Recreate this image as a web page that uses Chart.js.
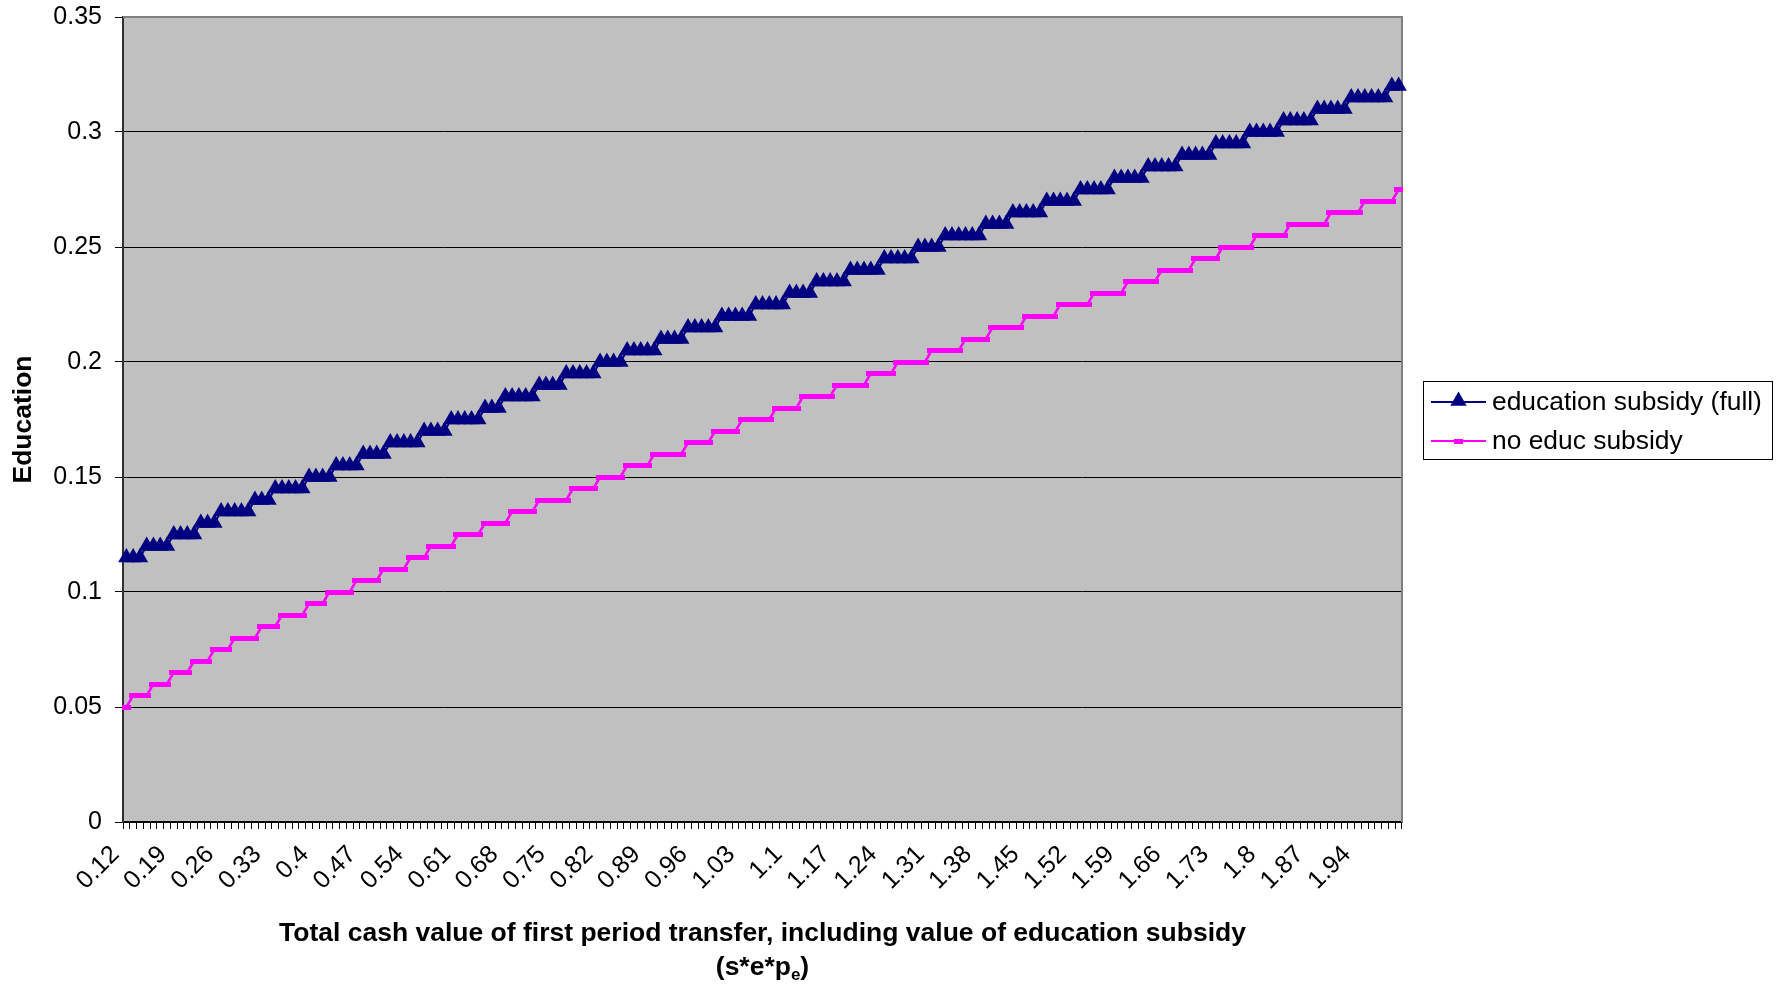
<!DOCTYPE html>
<html>
<head>
<meta charset="utf-8">
<script src="https://cdn.jsdelivr.net/npm/chart.js@4.4.1/dist/chart.umd.min.js"></script>
<style>
  html, body { margin: 0; padding: 0; background: #ffffff; }
  #wrap { width: 1780px; height: 985px; position: relative; }
</style>
</head>
<body>
<div id="wrap"><canvas id="chart" width="1780" height="985"></canvas></div>
<script>
// Transfer values on the category axis
const categories = [
  0.12, 0.13, 0.14, 0.15, 0.16, 0.17, 0.18, 0.19,
  0.2, 0.21, 0.22, 0.23, 0.24, 0.25, 0.26, 0.27, 0.28, 0.29,
  0.3, 0.31, 0.32, 0.33, 0.34, 0.35, 0.36, 0.37, 0.38, 0.39,
  0.4, 0.41, 0.42, 0.43, 0.44, 0.45, 0.46, 0.47, 0.48, 0.49,
  0.5, 0.51, 0.52, 0.53, 0.54, 0.55, 0.56, 0.57, 0.58, 0.59,
  0.6, 0.61, 0.62, 0.63, 0.64, 0.65, 0.66, 0.67, 0.68, 0.69,
  0.7, 0.71, 0.72, 0.73, 0.74, 0.75, 0.76, 0.77, 0.78, 0.79,
  0.8, 0.81, 0.82, 0.83, 0.84, 0.85, 0.86, 0.87, 0.88, 0.89,
  0.9, 0.91, 0.92, 0.93, 0.94, 0.95, 0.96, 0.97, 0.98, 0.99,
  1, 1.01, 1.02, 1.03, 1.04, 1.05, 1.06, 1.07, 1.08, 1.09,
  1.1, 1.11, 1.12, 1.13, 1.14, 1.15, 1.16, 1.17, 1.18, 1.19,
  1.2, 1.21, 1.22, 1.23, 1.24, 1.25, 1.26, 1.27, 1.28, 1.29,
  1.3, 1.31, 1.32, 1.33, 1.34, 1.35, 1.36, 1.37, 1.38, 1.39,
  1.4, 1.41, 1.42, 1.43, 1.44, 1.45, 1.46, 1.47, 1.48, 1.49,
  1.5, 1.51, 1.52, 1.53, 1.54, 1.55, 1.56, 1.57, 1.58, 1.59,
  1.6, 1.61, 1.62, 1.63, 1.64, 1.65, 1.66, 1.67, 1.68, 1.69,
  1.7, 1.71, 1.72, 1.73, 1.74, 1.75, 1.76, 1.77, 1.78, 1.79,
  1.8, 1.81, 1.82, 1.83, 1.84, 1.85, 1.86, 1.87, 1.88, 1.89,
  1.9, 1.91, 1.92, 1.93, 1.94, 1.95, 1.96, 1.97, 1.98, 1.99,
  2
];

// Education with the full education subsidy (one line per plateau)
const fullSubsidy = [
  0.115, 0.115, 0.115,
  0.12, 0.12, 0.12, 0.12,
  0.125, 0.125, 0.125, 0.125,
  0.13, 0.13, 0.13,
  0.135, 0.135, 0.135, 0.135, 0.135,
  0.14, 0.14, 0.14,
  0.145, 0.145, 0.145, 0.145, 0.145,
  0.15, 0.15, 0.15, 0.15,
  0.155, 0.155, 0.155, 0.155,
  0.16, 0.16, 0.16, 0.16,
  0.165, 0.165, 0.165, 0.165, 0.165,
  0.17, 0.17, 0.17, 0.17,
  0.175, 0.175, 0.175, 0.175, 0.175,
  0.18, 0.18, 0.18,
  0.185, 0.185, 0.185, 0.185, 0.185,
  0.19, 0.19, 0.19, 0.19,
  0.195, 0.195, 0.195, 0.195, 0.195,
  0.2, 0.2, 0.2, 0.2,
  0.205, 0.205, 0.205, 0.205, 0.205,
  0.21, 0.21, 0.21, 0.21,
  0.215, 0.215, 0.215, 0.215, 0.215,
  0.22, 0.22, 0.22, 0.22, 0.22,
  0.225, 0.225, 0.225, 0.225, 0.225,
  0.23, 0.23, 0.23, 0.23,
  0.235, 0.235, 0.235, 0.235, 0.235,
  0.24, 0.24, 0.24, 0.24, 0.24,
  0.245, 0.245, 0.245, 0.245, 0.245,
  0.25, 0.25, 0.25, 0.25,
  0.255, 0.255, 0.255, 0.255, 0.255, 0.255,
  0.26, 0.26, 0.26, 0.26,
  0.265, 0.265, 0.265, 0.265, 0.265,
  0.27, 0.27, 0.27, 0.27, 0.27,
  0.275, 0.275, 0.275, 0.275, 0.275,
  0.28, 0.28, 0.28, 0.28, 0.28,
  0.285, 0.285, 0.285, 0.285, 0.285,
  0.29, 0.29, 0.29, 0.29, 0.29,
  0.295, 0.295, 0.295, 0.295, 0.295,
  0.3, 0.3, 0.3, 0.3, 0.3,
  0.305, 0.305, 0.305, 0.305, 0.305,
  0.31, 0.31, 0.31, 0.31, 0.31,
  0.315, 0.315, 0.315, 0.315, 0.315, 0.315,
  0.32, 0.32
];

// Education without the subsidy (one line per plateau)
const noSubsidy = [
  0.05,
  0.055, 0.055, 0.055,
  0.06, 0.06, 0.06,
  0.065, 0.065, 0.065,
  0.07, 0.07, 0.07,
  0.075, 0.075, 0.075,
  0.08, 0.08, 0.08, 0.08,
  0.085, 0.085, 0.085,
  0.09, 0.09, 0.09, 0.09,
  0.095, 0.095, 0.095,
  0.1, 0.1, 0.1, 0.1,
  0.105, 0.105, 0.105, 0.105,
  0.11, 0.11, 0.11, 0.11,
  0.115, 0.115, 0.115,
  0.12, 0.12, 0.12, 0.12,
  0.125, 0.125, 0.125, 0.125,
  0.13, 0.13, 0.13, 0.13,
  0.135, 0.135, 0.135, 0.135,
  0.14, 0.14, 0.14, 0.14, 0.14,
  0.145, 0.145, 0.145, 0.145,
  0.15, 0.15, 0.15, 0.15,
  0.155, 0.155, 0.155, 0.155,
  0.16, 0.16, 0.16, 0.16, 0.16,
  0.165, 0.165, 0.165, 0.165,
  0.17, 0.17, 0.17, 0.17,
  0.175, 0.175, 0.175, 0.175, 0.175,
  0.18, 0.18, 0.18, 0.18,
  0.185, 0.185, 0.185, 0.185, 0.185,
  0.19, 0.19, 0.19, 0.19, 0.19,
  0.195, 0.195, 0.195, 0.195,
  0.2, 0.2, 0.2, 0.2, 0.2,
  0.205, 0.205, 0.205, 0.205, 0.205,
  0.21, 0.21, 0.21, 0.21,
  0.215, 0.215, 0.215, 0.215, 0.215,
  0.22, 0.22, 0.22, 0.22, 0.22,
  0.225, 0.225, 0.225, 0.225, 0.225,
  0.23, 0.23, 0.23, 0.23, 0.23,
  0.235, 0.235, 0.235, 0.235, 0.235,
  0.24, 0.24, 0.24, 0.24, 0.24,
  0.245, 0.245, 0.245, 0.245,
  0.25, 0.25, 0.25, 0.25, 0.25,
  0.255, 0.255, 0.255, 0.255, 0.255,
  0.26, 0.26, 0.26, 0.26, 0.26, 0.26,
  0.265, 0.265, 0.265, 0.265, 0.265,
  0.27, 0.27, 0.27, 0.27, 0.27,
  0.275
];

const seriesNames = ['education subsidy (full)', 'no educ subsidy'];
const yTickValues = [0, 0.05, 0.1, 0.15, 0.2, 0.25, 0.3, 0.35];
const xLabelEvery = 7;
const xTitle = 'Total cash value of first period transfer, including value of education subsidy';
const yTitle = 'Education';

const FONT = "'Liberation Sans', Arial, sans-serif";
const NAVY = '#000080';
const MAGENTA = '#FF00FF';

// Short horizontal bar used as the point marker of the second series
const dashMarker = document.createElement('canvas');
dashMarker.width = 9;
dashMarker.height = 5;
(function () {
  const g = dashMarker.getContext('2d');
  g.fillStyle = MAGENTA;
  g.fillRect(0, 0, 9, 5);
})();

function drawTriangle(ctx, x, y, r, color) {
  ctx.save();
  ctx.fillStyle = color;
  ctx.beginPath();
  ctx.moveTo(x, y - r);
  ctx.lineTo(x + r * 0.866, y + r * 0.5);
  ctx.lineTo(x - r * 0.866, y + r * 0.5);
  ctx.closePath();
  ctx.fill();
  ctx.restore();
}

const framePlugin = {
  id: 'frame',
  beforeDraw(chart) {
    const { ctx, chartArea: a } = chart;
    ctx.save();
    ctx.fillStyle = '#C0C0C0';
    ctx.fillRect(a.left, a.top, a.right - a.left, a.bottom - a.top);
    ctx.restore();
  },
  beforeDatasetsDraw(chart) {
    const { ctx, chartArea: a } = chart;
    ctx.save();
    ctx.strokeStyle = '#808080';
    ctx.lineWidth = 2;
    ctx.beginPath();
    ctx.moveTo(a.left, a.top);
    ctx.lineTo(a.right, a.top);
    ctx.lineTo(a.right, a.bottom);
    ctx.stroke();
    ctx.restore();
  },
  afterDraw(chart) {
    const { ctx, chartArea: a } = chart;
    ctx.save();
    ctx.fillStyle = '#000';

    // x axis title, two lines, with a subscript in the second
    const cx = (a.left + a.right) / 2;
    const big = 'bold 26.5px ' + FONT, small = 'bold 17px ' + FONT;
    ctx.font = big;
    ctx.textAlign = 'center';
    ctx.textBaseline = 'middle';
    ctx.fillText(xTitle, cx, 934);
    const p1 = '(s*e*p', sub = 'e', p2 = ')';
    ctx.font = big;
    const w1 = ctx.measureText(p1).width, w3 = ctx.measureText(p2).width;
    ctx.font = small;
    const w2 = ctx.measureText(sub).width;
    const x0 = cx - (w1 + w2 + w3) / 2;
    ctx.textAlign = 'left';
    ctx.font = big;
    ctx.fillText(p1, x0, 968);
    ctx.font = small;
    ctx.fillText(sub, x0 + w1, 975);
    ctx.font = big;
    ctx.fillText(p2, x0 + w1 + w2, 968);

    // y axis title
    ctx.save();
    ctx.translate(24, (a.top + a.bottom) / 2);
    ctx.rotate(-Math.PI / 2);
    ctx.textAlign = 'center';
    ctx.textBaseline = 'middle';
    ctx.font = big;
    ctx.fillText(yTitle, 0, 0);
    ctx.restore();

    // legend box
    const lx = 1423, ly = 381, lw = 349, lh = 78;
    ctx.fillStyle = '#fff';
    ctx.fillRect(lx, ly, lw, lh);
    ctx.strokeStyle = '#000';
    ctx.lineWidth = 1;
    ctx.strokeRect(lx + 0.5, ly + 0.5, lw, lh);
    const rows = [402, 441];
    const colors = [NAVY, MAGENTA];
    rows.forEach((ry, i) => {
      ctx.strokeStyle = colors[i];
      ctx.lineWidth = 2;
      ctx.beginPath();
      ctx.moveTo(lx + 8, ry);
      ctx.lineTo(lx + 63, ry);
      ctx.stroke();
      if (i === 0) drawTriangle(ctx, lx + 35.5, ry - 1, 9.5, NAVY);
      else ctx.drawImage(dashMarker, lx + 35.5 - 4.5, ry - 2.5);
      ctx.fillStyle = '#000';
      ctx.font = '26.4px ' + FONT;
      ctx.textAlign = 'left';
      ctx.textBaseline = 'middle';
      ctx.fillText(seriesNames[i], lx + 69, ry + 1);
    });
    ctx.restore();
  }
};

const fmt = v => String(parseFloat(Number(v).toFixed(2)));

new Chart(document.getElementById('chart'), {
  type: 'line',
  data: {
    labels: categories.map(String),
    datasets: [
      {
        label: seriesNames[0],
        data: fullSubsidy,
        borderColor: NAVY,
        backgroundColor: NAVY,
        borderWidth: 2,
        pointStyle: 'triangle',
        pointRadius: 9.5,
        pointBorderWidth: 0,
        pointBackgroundColor: NAVY,
        tension: 0,
        clip: false
      },
      {
        label: seriesNames[1],
        data: noSubsidy,
        borderColor: MAGENTA,
        backgroundColor: MAGENTA,
        borderWidth: 2.5,
        pointStyle: dashMarker,
        pointRadius: 5,
        tension: 0,
        clip: false
      }
    ]
  },
  options: {
    responsive: false,
    animation: false,
    devicePixelRatio: 1,
    layout: { padding: { left: 0, right: 378, top: 17, bottom: 0 } },
    plugins: { legend: { display: false }, tooltip: { enabled: false } },
    elements: { line: { borderJoinStyle: 'miter' } },
    scales: {
      x: {
        type: 'category',
        offset: true,
        afterFit(s) { s.height = 163; s.paddingLeft = 0; s.paddingRight = 0; },
        grid: {
          offset: true,
          drawOnChartArea: false,
          drawTicks: true,
          tickLength: 7,
          tickColor: '#000',
          tickWidth: 1
        },
        border: { display: true, color: '#000', width: 1.5 },
        ticks: {
          autoSkip: false,
          maxRotation: 45,
          minRotation: 45,
          padding: 11,
          labelOffset: -11,
          color: '#000',
          font: { family: FONT, size: 25 },
          callback(v, i) { return i % xLabelEvery === 0 ? fmt(categories[i]) : ''; }
        }
      },
      y: {
        min: yTickValues[0],
        max: yTickValues[yTickValues.length - 1],
        afterFit(s) { s.width = 123; s.paddingTop = 0; s.paddingBottom = 0; },
        afterBuildTicks(s) { s.ticks = yTickValues.map(v => ({ value: v })); },
        grid: {
          color: ctx => (ctx.tick && Math.abs(ctx.tick.value - 0.35) < 1e-9) ? 'rgba(0,0,0,0)' : '#000',
          lineWidth: 1,
          drawTicks: true,
          tickLength: 8,
          tickColor: '#000'
        },
        border: { display: true, color: '#303030', width: 2 },
        ticks: {
          padding: 13,
          color: '#000',
          font: { family: FONT, size: 25 },
          callback: v => fmt(v)
        }
      }
    }
  },
  plugins: [framePlugin]
});
</script>
</body>
</html>
